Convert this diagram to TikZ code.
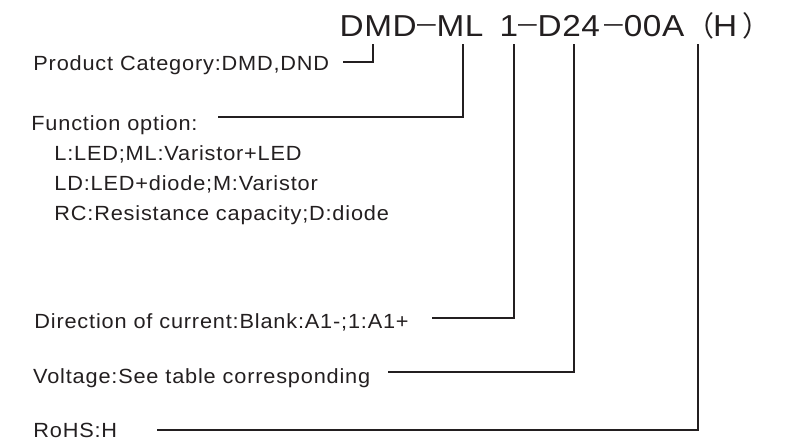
\documentclass[tikz,border=0pt]{standalone}
\usepackage{fontspec}
\setmainfont{Liberation Sans}
\newfontfamily\titlefont[FakeStretch=1.1,LetterSpace=2]{Liberation Sans}
\newfontfamily\dashfont[FakeStretch=1.4]{Liberation Sans}
\newfontfamily\labelfont[FakeStretch=1.06,LetterSpace=4]{Liberation Sans}
\newfontfamily\cjkfont{Noto Sans CJK SC}
\definecolor{ink}{HTML}{231F20}
\newcommand{\fwparen}[1]{{\cjkfont\fontsize{28}{34}\selectfont #1}}
\begin{document}
\begin{tikzpicture}[x=1pt,y=-1pt,
  lab/.style={anchor=base west, inner sep=0pt, text=ink,
    font=\labelfont\fontsize{20.5}{24}\selectfont},
  ttl/.style={anchor=base west, inner sep=0pt, text=ink,
    font=\titlefont\fontsize{30.3}{36}\selectfont},
  tdash/.style={anchor=base west, inner sep=0pt, text=ink,
    font=\dashfont\fontsize{24}{28}\selectfont},
  conn/.style={draw=ink, line width=1.2pt}]
\useasboundingbox[fill=white] (0,0) rectangle (788,442);

% title pieces
\node[ttl] (tDMD) at (339.4,36.7) {DMD};
\node[tdash] (dashA) at (417,31.4) {–};
\node[ttl] (tML)  at (436.4,36.7) {ML};
\node[ttl] (tOne) at (499.4,36.7) {1};
\node[tdash] (dashB) at (518,31.4) {–};
\node[ttl] (tD24) at (537.4,36.7) {D24};
\node[tdash] (dashC) at (604,31.4) {–};
\node[ttl] (t00A) at (623.6,36.7) {00A};
\node[ttl] (tH) at (686,36.7) {\fwparen{（}\kern-1pt H\kern5.4pt\fwparen{）}};

% labels
\node[lab] (prod) at (33.2,70.7) {Product Category:DMD,DND};
\node[lab] (func) at (31.2,130) {Function option:};
\node[lab] (f1) at (54.2,160) {L:LED;ML:Varistor+LED};
\node[lab] (f2) at (54.2,190.5) {LD:LED+diode;M:Varistor};
\node[lab] (f3) at (54.2,220.5) {RC:Resistance capacity;D:diode};
\node[lab] (dir) at (34.2,328) {Direction of current:Blank:A1-;1:A1+};
\node[lab] (volt) at (33,383.5) {Voltage:See table corresponding};
\node[lab] (rohs) at (33.2,437) {RoHS:H};

% connector end points
\coordinate (kDMD) at (373,44);
\coordinate (kML) at (463,44);
\coordinate (kOne) at (514,44);
\coordinate (kD24) at (574,44);
\coordinate (kH) at (698,44);
\coordinate (sProd) at (343,62);
\coordinate (sFunc) at (218,117);
\coordinate (sDir) at (432,318);
\coordinate (sVolt) at (388,372);
\coordinate (sRohs) at (157,430);

\draw[conn] (sProd) -| (kDMD);
\draw[conn] (sFunc) -| (kML);
\draw[conn] (sDir) -| (kOne);
\draw[conn] (sVolt) -| (kD24);
\draw[conn] (sRohs) -| (kH);
\end{tikzpicture}
\end{document}
